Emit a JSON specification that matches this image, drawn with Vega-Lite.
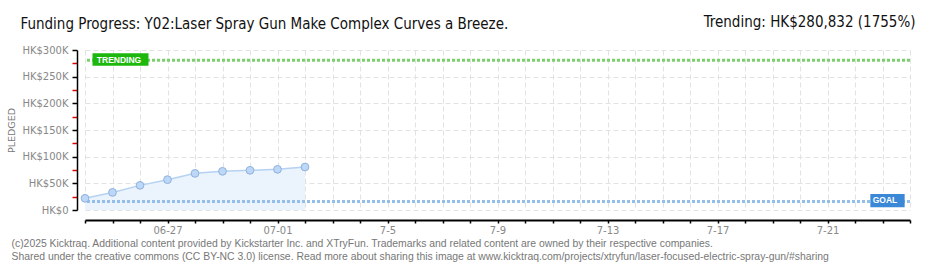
{
  "$schema": "https://vega.github.io/schema/vega-lite/v6.json",
  "width": 825,
  "height": 160,
  "autosize": {"type": "none"},
  "padding": {"left": 85, "top": 50, "right": 30, "bottom": 60},
  "background": "white",
  "config": {"view": {"stroke": null}},
  "resolve": {"axis": {"x": "independent", "y": "independent"}},
  "datasets": {
    "pledged": [
      {"date": "2025-06-24", "amount": 21900},
      {"date": "2025-06-25", "amount": 33000},
      {"date": "2025-06-26", "amount": 46200},
      {"date": "2025-06-27", "amount": 56900},
      {"date": "2025-06-28", "amount": 68700},
      {"date": "2025-06-29", "amount": 72500},
      {"date": "2025-06-30", "amount": 74400},
      {"date": "2025-07-01", "amount": 76200},
      {"date": "2025-07-02", "amount": 80600}
    ],
    "trend": [{"amount": 280832}],
    "goal": [{"amount": 16000}],
    "trendLabel": [{"date": "2025-06-24", "amount": 280832, "label": "TRENDING"}],
    "goalLabel": [{"date": "2025-07-24", "amount": 16000, "label": "GOAL"}]
  },
  "layer": [
    {
      "data": {"name": "pledged"},
      "mark": {"type": "area", "color": "#ebf3fd", "opacity": 1},
      "encoding": {
        "x": {
          "field": "date", "type": "temporal",
          "scale": {"type": "utc", "domain": [{"year": 2025, "month": 6, "date": 24, "utc": true}, {"year": 2025, "month": 7, "date": 24, "utc": true}]},
          "axis": {
            "orient": "bottom", "offset": 10,
            "tickCount": {"interval": "day", "step": 1},
            "labelExpr": "indexof(['07-05','07-09','07-13','07-17','07-21'], utcFormat(datum.value,'%m-%d')) >= 0 ? utcFormat(datum.value,'%-m-%-d') : (indexof(['06-27','07-01'], utcFormat(datum.value,'%m-%d')) >= 0 ? utcFormat(datum.value,'%m-%d') : '')",
            "grid": true, "gridColor": "#e2e2e2", "gridDash": [5, 3], "gridWidth": 1,
            "domainColor": "#000000", "domainWidth": 2,
            "tickColor": "#000000", "tickSize": 3, "tickWidth": 1.5,
            "labelColor": "#888888", "labelFont": "DejaVu Sans", "labelFontSize": 10, "labelPadding": 2,
            "labelOverlap": false, "labelFlush": false,
            "title": ["(c)2025 Kicktraq. Additional content provided by Kickstarter Inc. and XTryFun. Trademarks and related content are owned by their respective companies.", "Shared under the creative commons (CC BY-NC 3.0) license. Read more about sharing this image at www.kicktraq.com/projects/xtryfun/laser-focused-electric-spray-gun/#sharing"],
            "titleX": -74, "titleY": 26, "titleAlign": "left", "titleBaseline": "alphabetic", "titleAngle": 0,
            "titleFont": "Liberation Sans", "titleFontSize": 10.4, "titleFontWeight": "normal", "titleColor": "#777777", "titleLineHeight": 13
          }
        },
        "y": {
          "field": "amount", "type": "quantitative",
          "scale": {"domain": [0, 300000], "nice": false},
          "axis": {
            "orient": "left", "offset": 8,
            "values": [0, 25000, 50000, 75000, 100000, 125000, 150000, 175000, 200000, 225000, 250000, 275000, 300000],
            "labelExpr": "datum.value == 0 ? 'HK$0' : (datum.value % 50000 == 0 ? 'HK$' + (datum.value / 1000) + 'K' : '')",
            "grid": true, "gridColor": "#e2e2e2", "gridDash": [5, 3], "gridWidth": 1,
            "gridOpacity": {"condition": {"test": "datum.value % 50000 != 0", "value": 0}, "value": 1},
            "tickColor": {"condition": {"test": "datum.value % 50000 != 0", "value": "#e00000"}, "value": "#000000"},
            "tickSize": 5, "tickWidth": 1.5,
            "domainColor": "#000000", "domainWidth": 1.5,
            "labelColor": "#888888", "labelFont": "DejaVu Sans", "labelFontSize": 10, "labelPadding": 4,
            "title": "PLEDGED", "titleX": -66, "titleY": 80, "titleAngle": -90, "titleAlign": "center", "titleBaseline": "middle",
            "titleFont": "DejaVu Sans", "titleFontSize": 9.5, "titleFontWeight": "normal", "titleColor": "#777777"
          }
        }
      }
    },
    {
      "data": {"name": "pledged"},
      "mark": {"type": "line", "color": "#b5d2f2", "strokeWidth": 1.5},
      "encoding": {
        "x": {"field": "date", "type": "temporal", "axis": null},
        "y": {"field": "amount", "type": "quantitative", "axis": null}
      }
    },
    {
      "data": {"name": "trend"},
      "mark": {"type": "rule", "color": "#7ad06c", "strokeWidth": 3, "strokeDash": [3, 2]},
      "encoding": {
        "y": {"field": "amount", "type": "quantitative", "axis": null}
      }
    },
    {
      "data": {"name": "goal"},
      "mark": {"type": "rule", "color": "#93bee9", "strokeWidth": 3, "strokeDash": [3, 2]},
      "encoding": {
        "y": {"field": "amount", "type": "quantitative", "axis": null}
      }
    },
    {
      "data": {"name": "pledged"},
      "mark": {"type": "point", "filled": true, "fill": "#bcd7f7", "stroke": "#8fb1db", "strokeWidth": 1, "size": 60, "opacity": 1},
      "encoding": {
        "x": {"field": "date", "type": "temporal", "axis": null},
        "y": {"field": "amount", "type": "quantitative", "axis": null}
      }
    },
    {
      "data": {"name": "trendLabel"},
      "mark": {"type": "point", "shape": "M-1,-0.223H1V0.223H-1Z", "size": 3136, "filled": true, "color": "#1cb80e", "opacity": 1, "strokeWidth": 0, "xOffset": 35.5, "yOffset": -0.7},
      "encoding": {
        "x": {
          "field": "date", "type": "temporal",
          "axis": {
            "orient": "top", "labels": false, "ticks": false, "domain": false, "grid": false,
            "title": "Funding Progress: Y02:Laser Spray Gun Make Complex Curves a Breeze.",
            "titleX": -65, "titleY": -21.5, "titleAlign": "left", "titleBaseline": "alphabetic", "titleAngle": 0,
            "titleFont": "'Liberation Sans Narrow', 'DejaVu Sans Condensed', sans-serif", "titleFontSize": 15, "titleFontWeight": "normal", "titleColor": "#111111"
          }
        },
        "y": {"field": "amount", "type": "quantitative", "axis": null}
      }
    },
    {
      "data": {"name": "trendLabel"},
      "mark": {"type": "text", "color": "white", "font": "Liberation Sans", "fontWeight": "bold", "fontSize": 8.5, "align": "center", "baseline": "alphabetic", "dx": 34, "dy": 2.3},
      "encoding": {
        "x": {"field": "date", "type": "temporal", "axis": null},
        "y": {"field": "amount", "type": "quantitative", "axis": null},
        "text": {"field": "label"}
      }
    },
    {
      "data": {"name": "goalLabel"},
      "mark": {"type": "point", "shape": "M-1,-0.388H1V0.388H-1Z", "size": 1176, "filled": true, "color": "#3a88d6", "opacity": 1, "strokeWidth": 0, "xOffset": -22.5, "yOffset": -0.8},
      "encoding": {
        "x": {"field": "date", "type": "temporal", "axis": null},
        "y": {
          "field": "amount", "type": "quantitative",
          "axis": {
            "orient": "right", "labels": false, "ticks": false, "domain": false, "grid": false,
            "title": "Trending: HK$280,832 (1755%)",
            "titleX": 5, "titleY": -24, "titleAlign": "right", "titleBaseline": "alphabetic", "titleAngle": 0,
            "titleFont": "'Liberation Sans Narrow', 'DejaVu Sans Condensed', sans-serif", "titleFontSize": 15, "titleFontWeight": "normal", "titleColor": "#111111"
          }
        }
      }
    },
    {
      "data": {"name": "goalLabel"},
      "mark": {"type": "text", "color": "white", "font": "Liberation Sans", "fontWeight": "bold", "fontSize": 8.5, "align": "center", "baseline": "alphabetic", "dx": -25, "dy": 1.8},
      "encoding": {
        "x": {"field": "date", "type": "temporal", "axis": null},
        "y": {"field": "amount", "type": "quantitative", "axis": null},
        "text": {"field": "label"}
      }
    }
  ]
}
